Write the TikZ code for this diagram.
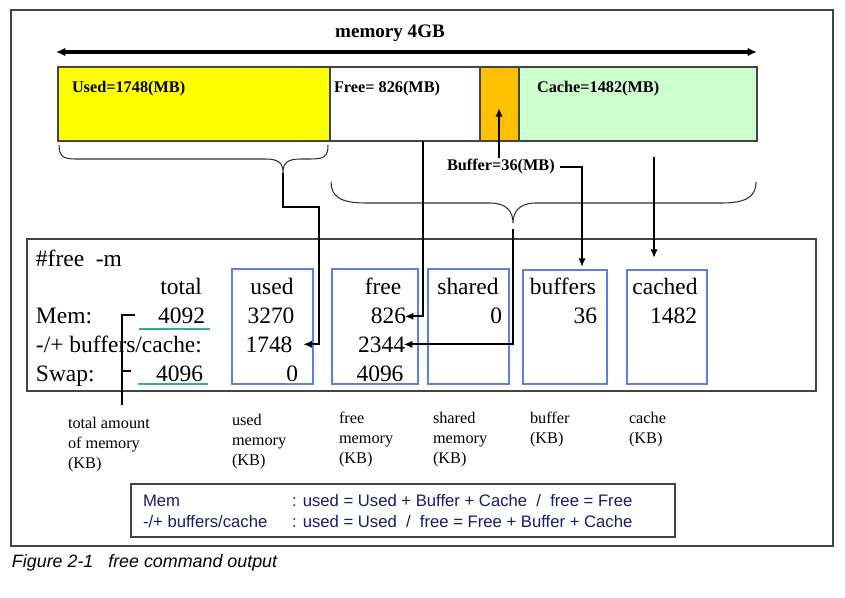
\documentclass[tikz,border=0pt]{standalone}
\usepackage{fontspec}
\setmainfont{Liberation Serif}
\setsansfont{Liberation Sans}
\usetikzlibrary{arrows.meta}
\definecolor{memyellow}{HTML}{FFFF00}
\definecolor{memorange}{HTML}{FFC000}
\definecolor{memgreen}{HTML}{CCFFCC}
\definecolor{colblue}{HTML}{5B82D8}
\definecolor{ulteal}{HTML}{3AA8A0}
\definecolor{legnavy}{HTML}{1A1A6E}
\definecolor{framegray}{HTML}{444444}
\tikzset{
  txt/.style={inner sep=0pt, outer sep=0pt},
  rowtxt/.style={txt, font=\fontsize{17.6pt}{21pt}\selectfont},
  small/.style={txt, anchor=base west, font=\fontsize{12.2pt}{15pt}\selectfont},
  barlbl/.style={txt, anchor=base west, font=\fontsize{12.2pt}{15pt}\selectfont\bfseries},
  leg/.style={txt, anchor=base west, text=legnavy, font=\sffamily\fontsize{12.5pt}{15pt}\selectfont},
  colbox/.style={draw=colblue, line width=0.8pt},
  conn/.style={draw=black, line width=1.4pt, -{Latex[length=6.5pt,width=5.5pt]}},
  brace/.style={draw=black!80, line width=0.8pt},
  seg/.style={draw=framegray, line width=0.9pt}
}
\begin{document}
\begin{tikzpicture}[x=0.75pt,y=-0.75pt]
\useasboundingbox (0,0) rectangle (845,598);
% outer frame
\draw[draw=framegray, line width=0.8pt] (11,10) rectangle (833,546);
% title and double arrow
\node[txt, anchor=base, font=\fontsize{14.3pt}{17pt}\selectfont\bfseries] (title) at (390,38) {memory 4GB};
\coordinate (arrL) at (56,52);
\coordinate (arrR) at (757,52);
\draw[line width=2.4pt, {Latex[length=7pt,width=6.5pt]}-{Latex[length=7pt,width=6.5pt]}] (arrL) -- (arrR);
% memory bar
\draw[seg, fill=memyellow] (58,67) rectangle (330,141);
\draw[seg, fill=white] (330,67) rectangle (480,141);
\draw[seg, fill=memorange] (480,67) rectangle (519,141);
\draw[seg, fill=memgreen] (519,67) rectangle (757,141);
\node[barlbl] (usedlbl) at (72,93) {Used=1748(MB)};
\node[barlbl] (freelbl) at (334,93) {Free= 826(MB)};
\node[barlbl] (cachelbl) at (537,93) {Cache=1482(MB)};
% braces
\draw[brace] (59,145) .. controls (59,159) and (66,159) .. (80,159) -- (265,159)
  .. controls (279,159) and (283,163) .. (283,173)
  .. controls (283,163) and (287,159) .. (301,159) -- (310,159)
  .. controls (324,159) and (328,157) .. (328,145);
\coordinate (b1tip) at (283,173);
\draw[brace] (331,182) .. controls (331,196) and (340,203) .. (365,203) -- (490,203)
  .. controls (507,203) and (513,212) .. (513,223)
  .. controls (513,212) and (519,203) .. (536,203) -- (722,203)
  .. controls (747,203) and (756,196) .. (756,182);
\coordinate (b2tip) at (513,229);
% buffer label and arrows
\node[barlbl] (buflbl) at (447,171) {Buffer=36(MB)};
\coordinate (bufUpStart) at (499,158);
\coordinate (bufUpEnd) at (499,108);
\draw[conn] (bufUpStart) -- (bufUpEnd);
% command box
\draw[draw=framegray, line width=0.8pt] (27,239) rectangle (816,391);
% column boxes
\draw[colbox] (232,269) rectangle (313,384);
\draw[colbox] (332,269) rectangle (418,384);
\draw[colbox] (428,269) rectangle (509,384);
\draw[colbox] (523,270) rectangle (607,384);
\draw[colbox] (627,270) rectangle (707,384);
% table text
\node[rowtxt, anchor=base west] (cmd) at (36,267) {\#free\ \ -m};
\node[rowtxt, anchor=base east] (htotal) at (202,295) {total};
\node[rowtxt, anchor=base] (hused) at (272,295) {used};
\node[rowtxt, anchor=base] (hfree) at (383,295) {free};
\node[rowtxt, anchor=base] (hshared) at (468,295) {shared};
\node[rowtxt, anchor=base] (hbuffers) at (563,295) {buffers};
\node[rowtxt, anchor=base] (hcached) at (665,295) {cached};
\node[rowtxt, anchor=base west] (rmem) at (36,324) {Mem:};
\node[rowtxt, anchor=base west] (rbc) at (36,352) {-/+ buffers/cache:};
\node[rowtxt, anchor=base west] (rswap) at (36,381) {Swap:};
\node[rowtxt, anchor=base east] (n4092) at (205,324) {4092};
\node[rowtxt, anchor=base east] (n4096a) at (203,381) {4096};
\node[rowtxt, anchor=base] (n3270) at (271,324) {3270};
\node[rowtxt, anchor=base] (n1748) at (269,352) {1748};
\node[rowtxt, anchor=base east] (n0a) at (298,381) {0};
\node[rowtxt, anchor=base east] (n826) at (406,324) {826};
\node[rowtxt, anchor=base east] (n2344) at (405,352) {2344};
\node[rowtxt, anchor=base] (n4096b) at (380,381) {4096};
\node[rowtxt, anchor=base east] (n0b) at (502,324) {0};
\node[rowtxt, anchor=base east] (n36) at (597,324) {36};
\node[rowtxt, anchor=base east] (n1482) at (697,324) {1482};
% teal underlines
\draw[ulteal, line width=1.6pt] (139,329) -- (210,329);
\draw[ulteal, line width=1.6pt] (138,384) -- (208,384);
% total bracket
\coordinate (tbTop) at (122,315);
\coordinate (tbBot) at (122,405);
\draw[line width=0.8pt] (135,315) -- (tbTop) -- (tbBot);
\draw[line width=0.8pt] (122,371) -- (131,371);
% connectors
\coordinate (c1) at (319,207);
\draw[conn, shorten >=8pt] (b1tip) |- (c1) |- (n1748.east);
\coordinate (freeTop) at (423,141);
\draw[conn, shorten >=-1pt] (freeTop) |- (n826.east);
\draw[conn, shorten >=-1pt] (b2tip) |- (n2344.east);
\coordinate (bufEnd) at (582,267);
\draw[conn, shorten <=4pt] (buflbl.east) -| (bufEnd);
\coordinate (cacheTop) at (654,157);
\coordinate (cacheEnd) at (654,258);
\draw[conn] (cacheTop) -- (cacheEnd);
% bottom labels
\node[small] (l1a) at (68,428) {total amount};
\node[small] (l1b) at (68,448) {of memory};
\node[small] (l1c) at (68,468) {(KB)};
\node[small] (l2a) at (232,425) {used};
\node[small] (l2b) at (232,445) {memory};
\node[small] (l2c) at (232,465) {(KB)};
\node[small] (l3a) at (339,423) {free};
\node[small] (l3b) at (339,443) {memory};
\node[small] (l3c) at (339,463) {(KB)};
\node[small] (l4a) at (433,423) {shared};
\node[small] (l4b) at (433,443) {memory};
\node[small] (l4c) at (433,463) {(KB)};
\node[small] (l5a) at (530,423) {buffer};
\node[small] (l5b) at (530,443) {(KB)};
\node[small] (l6a) at (629,423) {cache};
\node[small] (l6b) at (629,443) {(KB)};
% legend
\draw[draw=framegray, line width=0.8pt] (131,484) rectangle (675,537);
\node[leg] (lg1a) at (143,506) {Mem};
\node[leg] (lg1b) at (292,506) {: used = Used + Buffer + Cache\ \ /\ \ free = Free};
\node[leg] (lg2a) at (143,527) {-/+ buffers/cache};
\node[leg] (lg2b) at (292,527) {: used = Used\ \ /\ \ free = Free + Buffer + Cache};
% caption
\node[txt, anchor=base west, font=\sffamily\itshape\fontsize{13.4pt}{16pt}\selectfont] (cap) at (12,567) {Figure 2-1\ \ \ free command output};
\end{tikzpicture}
\end{document}
